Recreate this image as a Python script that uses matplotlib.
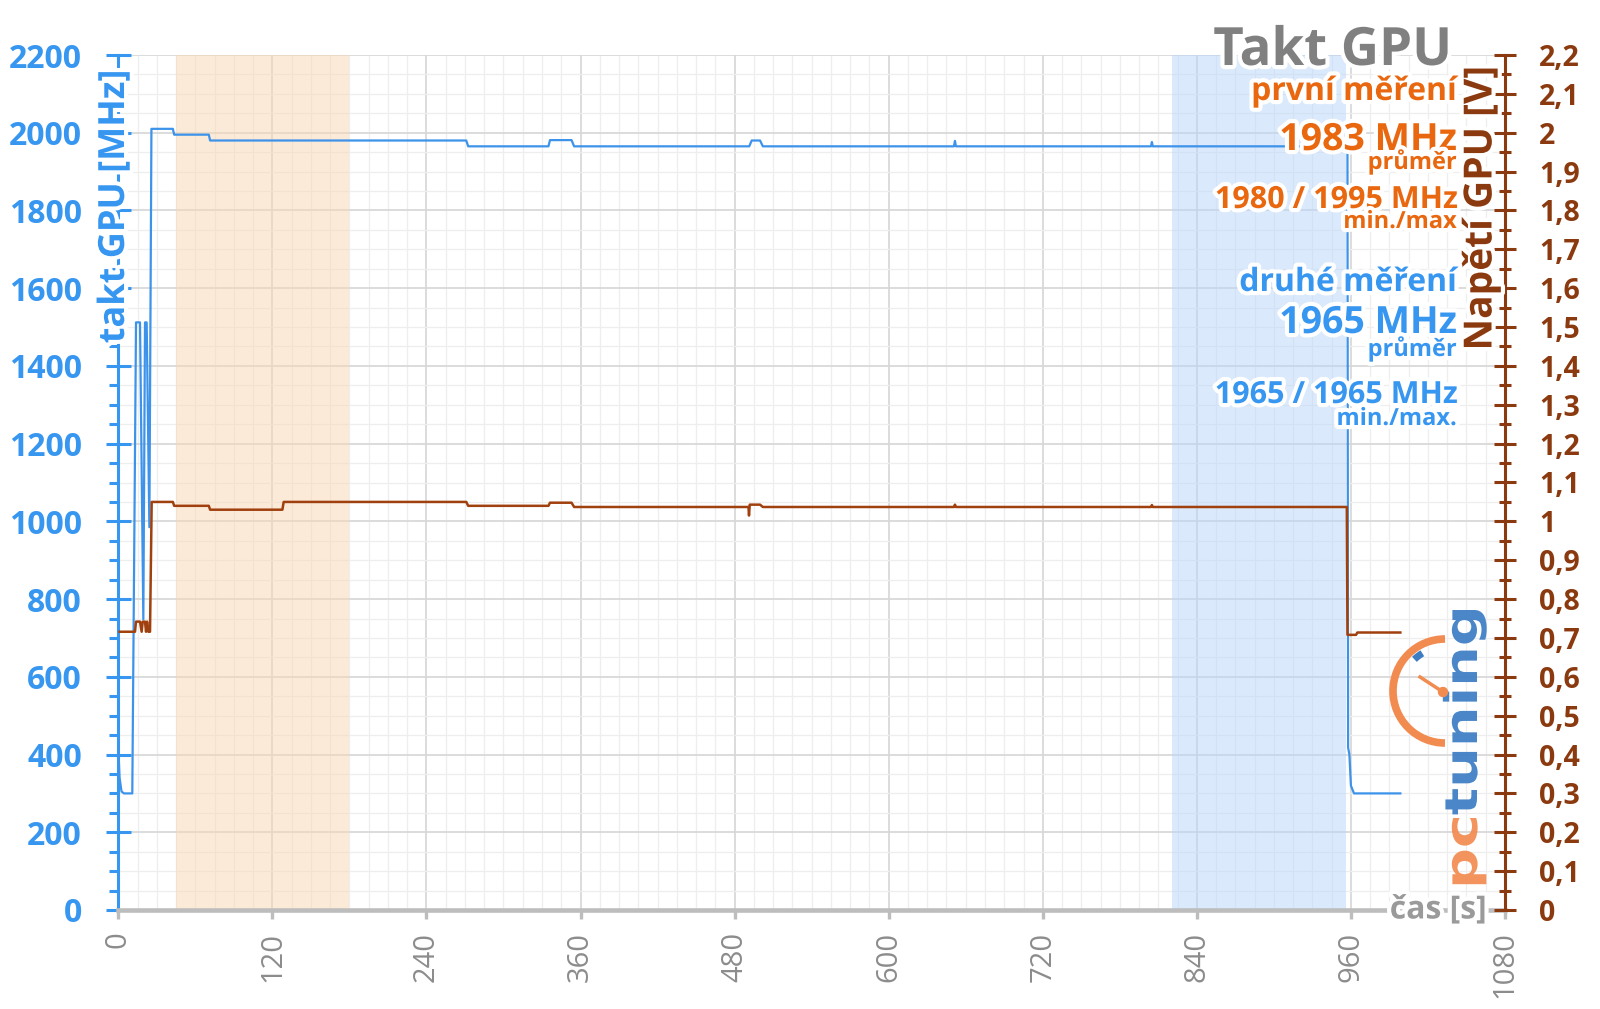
import matplotlib
matplotlib.use('Agg')
import matplotlib.pyplot as plt
import matplotlib.patheffects as pe
from matplotlib.ticker import MultipleLocator
from matplotlib.patches import Arc, Circle, PathPatch
from matplotlib.lines import Line2D
from matplotlib.textpath import TextPath
from matplotlib.font_manager import FontProperties
from matplotlib.transforms import Affine2D, IdentityTransform

plt.rcParams['font.family'] = ['Open Sans', 'DejaVu Sans']

# GPU clock [MHz] over time [s]
clock_t = [0, 1.0, 2.5, 4.4, 10.9, 13.8, 16.9, 19.5, 20.8, 22.1, 24.2, 25.8,
           42.5, 43.5, 70.5, 71.5, 271.0, 272.5, 335.0, 336.2, 353.0, 355.0,
           491.4, 493.3, 499.8, 502.0, 650.8, 651.6, 652.4, 804.3, 805.0, 805.7,
           957.3, 957.8, 958.8, 960.0, 962.4, 998.5]
clock_mhz = [420, 340, 305, 300, 300, 1512, 1512, 748, 1512, 1512, 985, 2010,
             2010, 1995, 1995, 1980, 1980, 1965, 1965, 1981, 1981, 1965,
             1965, 1980, 1980, 1965, 1965, 1979, 1965, 1965, 1976, 1965,
             1965, 418, 400, 320, 300, 300]

# GPU voltage [V] over time [s]
volt_t = [1.0, 13.0, 13.8, 16.9, 18.2, 19.0, 20.8, 21.6, 22.4, 23.4, 24.7, 26.0,
          42.5, 43.5, 70.5, 71.5, 127.8, 128.8, 271.0, 272.5, 335.0, 336.2, 353.0, 355.0,
          490.8, 491.2, 491.8, 493.3, 499.8, 502.0, 650.8, 651.6, 652.4, 804.3, 805.0, 805.7,
          956.8, 957.3, 964.0, 965.0, 998.5]
volt_v = [0.716, 0.716, 0.742, 0.742, 0.716, 0.742, 0.742, 0.716, 0.742, 0.716, 0.716, 1.05,
          1.05, 1.04, 1.04, 1.03, 1.03, 1.05, 1.05, 1.04, 1.04, 1.048, 1.048, 1.037,
          1.037, 1.015, 1.043, 1.043, 1.043, 1.037, 1.037, 1.043, 1.037, 1.037, 1.042, 1.037,
          1.037, 0.708, 0.708, 0.714, 0.714]

# measurement windows [s]
band_first = (45, 180)
band_second = (821, 956)

x_ticks = [0, 120, 240, 360, 480, 600, 720, 840, 960, 1080]
mhz_ticks = [0, 200, 400, 600, 800, 1000, 1200, 1400, 1600, 1800, 2000, 2200]
volt_ticks = [0, 0.1, 0.2, 0.3, 0.4, 0.5, 0.6, 0.7, 0.8, 0.9, 1.0, 1.1,
              1.2, 1.3, 1.4, 1.5, 1.6, 1.7, 1.8, 1.9, 2.0, 2.1, 2.2]
volt_labels = ['0', '0,1', '0,2', '0,3', '0,4', '0,5', '0,6', '0,7', '0,8', '0,9', '1', '1,1',
               '1,2', '1,3', '1,4', '1,5', '1,6', '1,7', '1,8', '1,9', '2', '2,1', '2,2']

stats_first = ['první měření', '1983 MHz', 'průměr', '1980 / 1995 MHz', 'min./max']
stats_second = ['druhé měření', '1965 MHz', 'průměr', '1965 / 1965 MHz', 'min./max.']

BLUE = '#3796F0'
LINE_BLUE = '#3D93EA'
BROWN = '#8B3A0F'
LINE_BROWN = '#A0400E'
ORANGE = '#E8670F'
GRAY = '#8C8C8C'

W, H = 1600, 1009
fig = plt.figure(figsize=(W / 100, H / 100), dpi=100)
ax = fig.add_axes([118.3 / W, 1 - 910 / H, (1505 - 118.3) / W, (910 - 55) / H])
ax2 = ax.twinx()

ax.set_xlim(0, 1080)
ax.set_ylim(0, 2200)
ax2.set_ylim(0, 2.2)

ax.axvspan(*band_first, color='#FBD7B5', alpha=0.5, lw=0, zorder=1)
ax.axvspan(*band_second, color='#B7D5F9', alpha=0.5, lw=0, zorder=1)

ax.plot(clock_t, clock_mhz, color=LINE_BLUE, lw=1.6, zorder=3)
ax2.plot(volt_t, volt_v, color=LINE_BROWN, lw=1.8, zorder=3)

# grid
ax.set_axisbelow(True)
ax.set_xticks(x_ticks)
ax.xaxis.set_minor_locator(MultipleLocator(15))
ax.set_yticks(mhz_ticks)
ax.yaxis.set_minor_locator(MultipleLocator(50))
ax.grid(which='major', color='#D6D6D6', lw=1.2)
ax.grid(which='minor', color='#EEEEEE', lw=0.9)

# spines
for s in ['top', 'right']:
    ax.spines[s].set_visible(False)
ax.spines['left'].set_color(BLUE)
ax.spines['left'].set_linewidth(2.2)
ax.spines['bottom'].set_color('#BDBDBD')
ax.spines['bottom'].set_linewidth(3.3)
for s in ['top', 'left', 'bottom']:
    ax2.spines[s].set_visible(False)
ax2.spines['right'].set_color(BROWN)
ax2.spines['right'].set_linewidth(2.2)

# ticks
ax.tick_params(axis='x', which='major', direction='out', length=6.5, width=2.4,
               color='#BDBDBD', labelsize=21, labelcolor=GRAY, pad=9, labelrotation=90)
ax.tick_params(axis='x', which='minor', length=0)
ax.tick_params(axis='y', which='major', direction='inout', length=18, width=2.2,
               color=BLUE, labelcolor=BLUE, labelsize=23, pad=17.3)
ax.tick_params(axis='y', which='minor', direction='out', length=6.5, width=2.2, color=BLUE)
for lab in ax.get_yticklabels():
    lab.set_fontweight('bold')

ax2.set_yticks(volt_ticks, volt_labels)
ax2.yaxis.set_minor_locator(MultipleLocator(0.05))
ax2.tick_params(axis='y', which='major', direction='inout', length=16.5, width=2.2,
                color=BROWN, labelcolor=BROWN, labelsize=20.5, pad=16.2)
ax2.tick_params(axis='y', which='minor', direction='inout', length=8, width=2.2, color=BROWN)
for lab in ax2.get_yticklabels():
    lab.set_fontweight('bold')

glow = [pe.withStroke(linewidth=6, foreground='white')]

def ftext(x, y, s, **kw):
    # x, y in reference pixels from top-left
    return fig.text(x / W, 1 - y / H, s, path_effects=glow, fontweight='bold', **kw)

ftext(115, 69, 'takt GPU [MHz]', rotation=90, ha='center', va='top', fontsize=26, color=BLUE)
ftext(1481, 66, 'Napětí GPU [V]', rotation=90, ha='center', va='top', fontsize=28, color=BROWN)
ftext(1487, 910, 'čas [s]', ha='right', va='center', fontsize=23, color='#9A9A9A')

ftext(1452, 65, 'Takt GPU', ha='right', va='baseline', fontsize=38, color='#808080')
sizes = [23, 27, 17, 22, 17]
base_first = [100, 150, 169, 208, 228]
base_second = [291, 333, 356, 403, 425]
for s, b, fs in zip(stats_first, base_first, sizes):
    ftext(1457, b, s, ha='right', va='baseline', fontsize=fs, color=ORANGE)
for s, b, fs in zip(stats_second, base_second, sizes):
    ftext(1457, b, s, ha='right', va='baseline', fontsize=fs, color=BLUE)

# pctuning watermark (display pixel coordinates)
LOGO_OR = '#F28B50'
LOGO_BL = '#3C7DC4'
fp = FontProperties(family='DejaVu Sans', weight='bold')
p_pc = TextPath((0, 0), 'pc', size=1, prop=fp)
p_tu = TextPath((0, 0), 'tuning', size=1, prop=fp)
w_pc = p_pc.get_extents().x1
w_tu = p_tu.get_extents().x1
sx = 279 / (w_pc + 0.05 + w_tu)
for path, off, col in [(p_pc, 0, LOGO_OR), (p_tu, w_pc + 0.05, LOGO_BL)]:
    tr = Affine2D().translate(off, 0).scale(sx, 45).rotate_deg(90).translate(1477, H - 889)
    fig.add_artist(PathPatch(path, transform=tr, facecolor=col, lw=0, alpha=0.92, zorder=5))

cx, cy = 1445, H - 691
fig.add_artist(Arc((cx, cy), 104, 104, theta1=90, theta2=270, lw=5.5, color=LOGO_OR,
                   transform=IdentityTransform(), zorder=5))
fig.add_artist(Arc((cx, cy), 88, 88, theta1=121, theta2=134, lw=5, color=LOGO_BL,
                   transform=IdentityTransform(), zorder=5))
fig.add_artist(Line2D([1420, 1443], [H - 677, H - 692], lw=2.5, color=LOGO_OR,
                      transform=IdentityTransform(), zorder=5))
fig.add_artist(Circle((1443, H - 692), 4.5, color=LOGO_OR, transform=IdentityTransform(), zorder=5))

fig.savefig('out.png', dpi=100)
